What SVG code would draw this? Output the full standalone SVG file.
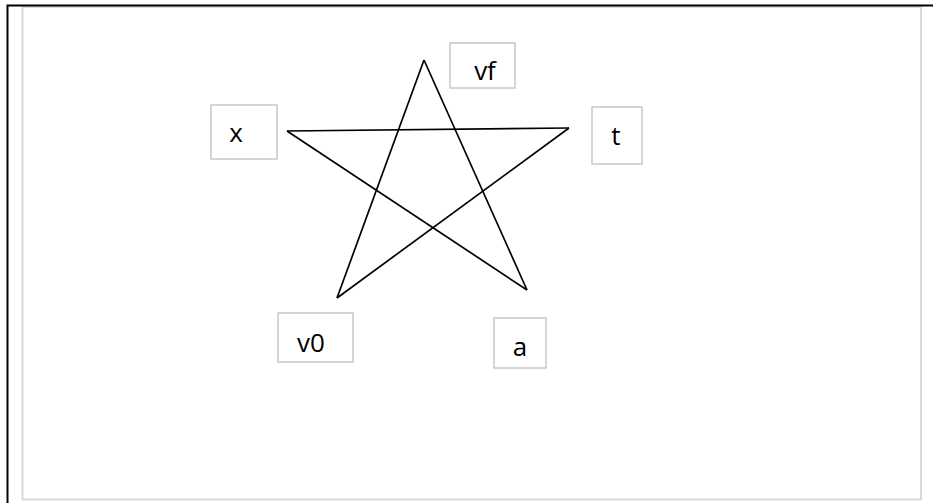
<svg xmlns="http://www.w3.org/2000/svg" width="933" height="503" viewBox="0 0 933 503">
<style>
.frame{fill:none;stroke:#000;stroke-width:2}
.inner{fill:none;stroke:#d9d9d9;stroke-width:2}
.box{fill:#fff;stroke:#c8c8c8;stroke-width:1.5}
.lbl{font-family:"Open Sans","Liberation Sans",sans-serif;font-size:26px;fill:#000;text-anchor:middle}
.edge{fill:none;stroke:#000;stroke-width:1.7}
</style>
<rect width="933" height="503" fill="#fff"/>
<rect class="inner" x="22.5" y="7" width="898.5" height="492.5"/>
<path class="frame" d="M7.5 503 V5.5 H933"/>
<g id="connectors">
<line class="edge" x1="424" y1="60" x2="337" y2="298"/>
<line class="edge" x1="424" y1="60" x2="527" y2="290"/>
<line class="edge" x1="287" y1="131" x2="569" y2="128"/>
<line class="edge" x1="287" y1="131" x2="527" y2="290"/>
<line class="edge" x1="569" y1="128" x2="337" y2="298"/>
</g>
<g id="node-x"><rect class="box" x="211" y="105" width="66" height="54"/><text class="lbl" x="236" y="142">x</text></g>
<g id="node-vf"><rect class="box" x="450" y="43" width="65" height="45"/><text class="lbl" x="485" y="79.5">vf</text></g>
<g id="node-t"><rect class="box" x="592" y="107" width="50" height="57"/><text class="lbl" x="616" y="145">t</text></g>
<g id="node-v0"><rect class="box" x="278" y="313" width="75" height="49"/><text class="lbl" x="311" y="352">v0</text></g>
<g id="node-a"><rect class="box" x="494" y="318" width="52" height="50"/><text class="lbl" x="520" y="356">a</text></g>
</svg>
